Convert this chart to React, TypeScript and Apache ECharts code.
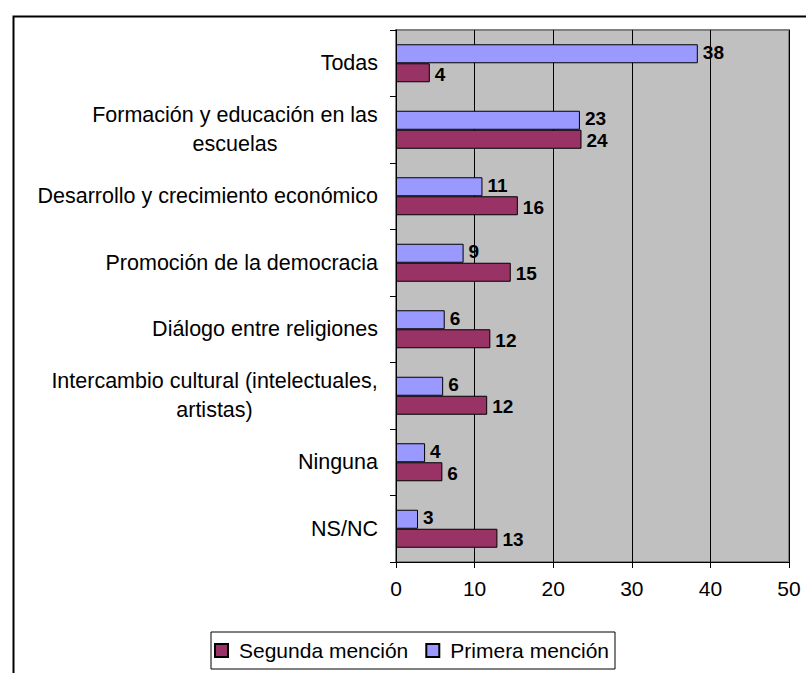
import React, { useEffect, useRef } from "react";
import * as echarts from "echarts";

const categories: string[] = [
  "Todas",
  "Formación y educación en las\nescuelas",
  "Desarrollo y crecimiento económico",
  "Promoción de la democracia",
  "Diálogo entre religiones",
  "Intercambio cultural (intelectuales,\nartistas)",
  "Ninguna",
  "NS/NC",
];
const primeraMencion: number[] = [38.4, 23.4, 11.0, 8.6, 6.2, 6.0, 3.7, 2.8];
const segundaMencion: number[] = [4.3, 23.6, 15.5, 14.6, 12.0, 11.6, 5.9, 12.9];
const xTicks = { min: 0, max: 50, interval: 10 };
const seriesNames = { primera: "Primera mención", segunda: "Segunda mención" };

const FONT = "'Liberation Sans', Arial, Helvetica, sans-serif";
const CAT_SIZE = 21.5;

export default function App() {
  const ref = useRef<HTMLDivElement>(null);
  useEffect(() => {
    if (!ref.current) return;
    const chart = echarts.init(ref.current, undefined, { renderer: "svg" });

    const ctx = document.createElement("canvas").getContext("2d")!;
    ctx.font = `${CAT_SIZE}px ${FONT}`;
    const rich: Record<string, any> = {
      n: { fontSize: CAT_SIZE, fontFamily: FONT, color: "#000", lineHeight: 29 },
    };
    const keyFor: Record<string, string> = {};
    categories.forEach((c, i) => {
      const lines = c.split("\n");
      if (lines.length > 1) {
        const w = Math.max(...lines.map((l) => ctx.measureText(l).width));
        const key = "w" + i;
        rich[key] = {
          fontSize: CAT_SIZE,
          fontFamily: FONT,
          color: "#000",
          lineHeight: 29,
          width: Math.ceil(w),
          align: "center",
        };
        keyFor[c] = key;
      }
    });

    const labelStyle = (dy: number) => ({
      show: true,
      position: "right",
      distance: 5,
      offset: [0, dy],
      fontSize: 19,
      lineHeight: 17,
      fontWeight: "bold",
      fontFamily: FONT,
      color: "#000",
      formatter: (p: any) => String(Math.round(p.value)),
    });

    const option: any = {
      animation: false,
      backgroundColor: "#fff",
      textStyle: { fontFamily: FONT },
      graphic: [
        {
          type: "rect",
          left: 11,
          top: 14,
          shape: { x: 0, y: 0, width: 900, height: 800 },
          style: { fill: "none", stroke: "#000", lineWidth: 2 },
          silent: true,
          z: -10,
        },
      ],
      grid: {
        left: 396,
        right: 17,
        top: 30,
        bottom: 111,
        containLabel: false,
        show: true,
        backgroundColor: "#C0C0C0",
        borderColor: "#808080",
        borderWidth: 2,
      },
      legend: {
        data: [seriesNames.segunda, seriesNames.primera],
        left: 211,
        top: 632,
        orient: "horizontal",
        icon: "rect",
        itemWidth: 13,
        itemHeight: 13,
        itemGap: 17,
        padding: [8, 6, 8, 3],
        borderColor: "#000",
        borderWidth: 1,
        backgroundColor: "#fff",
        textStyle: { fontSize: 21, fontFamily: FONT, color: "#000", padding: [0, 0, 0, 6] },
      },
      xAxis: {
        type: "value",
        min: xTicks.min,
        max: xTicks.max,
        interval: xTicks.interval,
        axisLine: { show: true, lineStyle: { color: "#000", width: 1 } },
        axisTick: { show: true, length: 6, lineStyle: { color: "#000" } },
        axisLabel: { fontSize: 21, fontFamily: FONT, color: "#000", margin: 16 },
        splitLine: { show: true, lineStyle: { color: "#000", width: 1 } },
      },
      yAxis: {
        type: "category",
        inverse: true,
        data: categories,
        axisLine: { show: true, lineStyle: { color: "#000", width: 1 } },
        axisTick: { show: true, length: 6, lineStyle: { color: "#000" } },
        axisLabel: {
          margin: 18,
          formatter: (v: string) => {
            const key = keyFor[v] || "n";
            return v
              .split("\n")
              .map((l) => `{${key}|${l}}`)
              .join("\n");
          },
          rich,
        },
        splitLine: { show: false },
      },
      series: [
        {
          name: seriesNames.primera,
          type: "bar",
          data: primeraMencion,
          barWidth: 19,
          barGap: "0%",
          itemStyle: { color: "#9999FF", borderColor: "#000", borderWidth: 1 },
          label: labelStyle(-1.5),
        },
        {
          name: seriesNames.segunda,
          type: "bar",
          data: segundaMencion,
          barWidth: 19,
          barGap: "0%",
          itemStyle: { color: "#993366", borderColor: "#000", borderWidth: 1 },
          label: labelStyle(1.5),
        },
      ],
    };
    chart.setOption(option);
    return () => chart.dispose();
  }, []);
  return (
    <div
      ref={ref}
      style={{ position: "fixed", left: 0, top: 0, width: 806, height: 673 }}
    />
  );
}
